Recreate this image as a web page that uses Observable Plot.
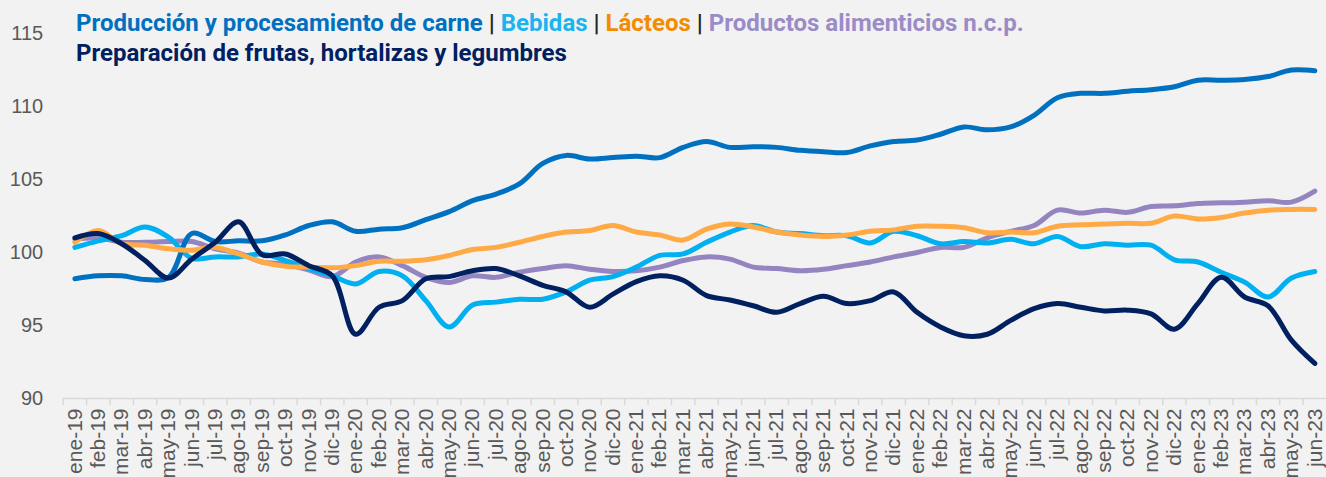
<!DOCTYPE html>
<html><head><meta charset="utf-8">
<script src="https://cdn.jsdelivr.net/npm/d3@7"></script>
<script src="https://cdn.jsdelivr.net/npm/@observablehq/plot@0.6"></script>
<style>
html,body{margin:0;padding:0;background:#f2f2f2;overflow:hidden;}
#wrap{position:relative;width:1326px;height:477px;overflow:hidden;background:#f2f2f2;}
#chart svg{display:block;}
#title{position:absolute;left:76px;top:8px;font-family:Roboto,"Noto Sans",sans-serif;font-weight:700;font-size:24px;line-height:30px;white-space:nowrap;}
#title .sep{color:#262626;font-weight:700;}
</style></head><body>
<div id="wrap"><div id="chart"></div>
<div id="title"><span style="color:#0070C0">Producción y procesamiento de carne</span> <span class="sep">|</span> <span style="color:#1CB4EE">Bebidas</span> <span class="sep">|</span> <span style="color:#F28C00">Lácteos</span> <span class="sep">|</span> <span style="color:#9B8BC6">Productos alimenticios n.c.p.</span><br><span style="color:#002060">Preparación de frutas, hortalizas y legumbres</span></div>
</div>
<script>
const months = ["ene-19","feb-19","mar-19","abr-19","may-19","jun-19","jul-19","ago-19","sep-19","oct-19","nov-19","dic-19",
"ene-20","feb-20","mar-20","abr-20","may-20","jun-20","jul-20","ago-20","sep-20","oct-20","nov-20","dic-20",
"ene-21","feb-21","mar-21","abr-21","may-21","jun-21","jul-21","ago-21","sep-21","oct-21","nov-21","dic-21",
"ene-22","feb-22","mar-22","abr-22","may-22","jun-22","jul-22","ago-22","sep-22","oct-22","nov-22","dic-22",
"ene-23","feb-23","mar-23","abr-23","may-23","jun-23"];
const yTicks = [90, 95, 100, 105, 110, 115];

const carne = [98.2,98.4,98.4,98.15,98.3,101.3,100.75,100.8,100.8,101.2,101.85,102.1,101.45,101.6,101.7,102.25,102.8,103.55,104.0,104.7,106.1,106.65,106.4,106.5,106.6,106.5,107.2,107.6,107.2,107.25,107.2,107.0,106.9,106.85,107.3,107.6,107.7,108.1,108.6,108.4,108.6,109.4,110.6,110.9,110.9,111.05,111.15,111.35,111.8,111.8,111.85,112.05,112.5,112.45];
const bebidas = [100.35,100.8,101.15,101.75,101.05,99.6,99.7,99.7,99.9,99.45,98.9,98.4,97.85,98.7,98.4,96.7,94.9,96.4,96.6,96.8,96.8,97.3,98.1,98.35,99.0,99.8,99.9,100.7,101.4,101.85,101.4,101.3,101.15,101.15,100.65,101.45,101.15,100.6,100.75,100.65,100.9,100.6,101.1,100.4,100.6,100.5,100.5,99.5,99.35,98.65,97.97,96.95,98.25,98.7];
const lacteos = [100.7,101.5,100.6,100.5,100.25,100.15,100.35,99.9,99.35,99.05,99.0,98.95,99.1,99.4,99.4,99.5,99.8,100.2,100.35,100.7,101.1,101.4,101.5,101.85,101.4,101.2,100.85,101.6,101.95,101.75,101.4,101.2,101.1,101.2,101.45,101.55,101.8,101.8,101.7,101.35,101.4,101.35,101.8,101.9,101.95,102.0,102.0,102.5,102.3,102.4,102.7,102.9,102.95,102.95];
const productos = [100.9,101.0,100.7,100.7,100.75,100.75,100.25,99.95,99.35,99.2,98.8,98.35,99.35,99.7,99.1,98.3,97.95,98.4,98.3,98.65,98.9,99.1,98.85,98.7,98.75,99.0,99.45,99.7,99.55,99.0,98.9,98.75,98.85,99.1,99.35,99.7,100.0,100.35,100.35,101.0,101.45,101.85,102.9,102.7,102.9,102.75,103.15,103.2,103.35,103.4,103.45,103.55,103.45,104.2];
const frutas = [101.0,101.3,100.6,99.45,98.25,99.55,100.7,102.1,99.85,99.9,99.1,98.4,94.4,96.25,96.7,98.2,98.35,98.75,98.9,98.4,97.75,97.3,96.25,97.15,98.0,98.4,98.1,97.05,96.75,96.35,95.9,96.5,97.0,96.5,96.7,97.3,95.9,94.9,94.3,94.4,95.35,96.15,96.5,96.25,96.0,96.05,95.8,94.75,96.5,98.3,96.95,96.35,94.0,92.4];

const series = [
  {name: "Productos alimenticios n.c.p.", values: productos, color: "#9485C1"},
  {name: "Bebidas", values: bebidas, color: "#00B0F0"},
  {name: "Producción y procesamiento de carne", values: carne, color: "#0070C0"},
  {name: "Lácteos", values: lacteos, color: "#FFAA45"},
  {name: "Preparación de frutas, hortalizas y legumbres", values: frutas, color: "#002060"}
];

const W = 1326, ML = 62.7;
const step = (W - ML) / months.length;

const lineMarks = series.map(s => Plot.line(
  months.map((m, i) => ({mes: m, valor: s.values[i]})),
  {x: "mes", y: "valor", stroke: s.color, strokeWidth: 5, curve: "catmull-rom", strokeLinecap: "round", strokeLinejoin: "round"}
));

const chart = Plot.plot({
  width: W, height: 477,
  marginLeft: ML, marginRight: 0, marginTop: 33, marginBottom: 79,
  style: {background: "#f2f2f2", fontFamily: "'Liberation Sans', Arial, sans-serif", overflow: "visible"},
  x: {type: "band", domain: months, padding: 0, round: false, label: null},
  y: {domain: [90, 115], label: null},
  marks: [
    Plot.axisY({ticks: yTicks, tickSize: 0, tickPadding: 20, fontSize: 20, color: "#595959", label: null}),
    Plot.ruleY([90], {stroke: "#d9d9d9", strokeWidth: 1.5}),
    Plot.axisX({tickSize: 7, text: null, dx: -step / 2, stroke: "#d9d9d9", strokeWidth: 1.5, label: null}),
    Plot.axisX({tickSize: 0, tickPadding: 10, tickRotate: -90, fontSize: 21, color: "#595959", label: null}),
    ...lineMarks
  ]
});
document.getElementById("chart").appendChild(chart);
</script>
</body></html>
